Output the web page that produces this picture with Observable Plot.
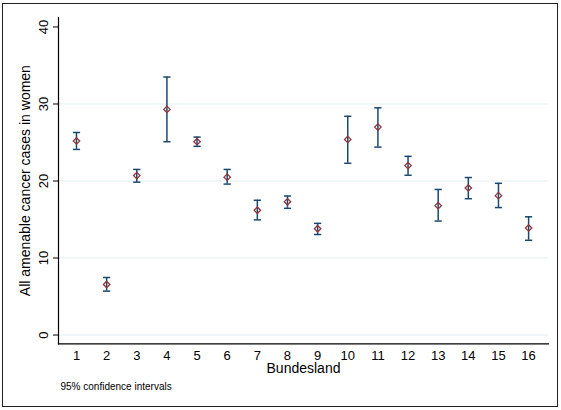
<!DOCTYPE html>
<html>
<head>
<meta charset="utf-8">
<script src="https://cdn.jsdelivr.net/npm/d3@7"></script>
<script src="https://cdn.jsdelivr.net/npm/@observablehq/plot@0.6"></script>
<style>
body { margin: 0; background: #fff; }
#wrap { position: relative; width: 561px; height: 410px; }
#border { position: absolute; left: 2px; top: 3px; width: 554px; height: 402px; border: 1.5px solid #222; pointer-events: none; }
</style>
</head>
<body>
<div id="wrap"><div id="border"></div></div>
<script>
// Data
const bundesland = [1, 2, 3, 4, 5, 6, 7, 8, 9, 10, 11, 12, 13, 14, 15, 16];
const estimate = [25.2, 6.56, 20.7, 29.3, 25.1, 20.5, 16.2, 17.3, 13.8, 25.4, 27.0, 22.0, 16.8, 19.1, 18.1, 13.9];
const lower    = [24.1, 5.7, 19.85, 25.1, 24.5, 19.6, 14.95, 16.45, 13.05, 22.3, 24.4, 20.75, 14.8, 17.7, 16.55, 12.3];
const upper    = [26.3, 7.47, 21.5, 33.5, 25.7, 21.5, 17.5, 18.05, 14.5, 28.4, 29.5, 23.2, 18.9, 20.45, 19.7, 15.35];
const yTicks = [0, 10, 20, 30, 40];
const gridTicks = [0, 10, 20, 30];
const xLabel = "Bundesland";
const yLabel = "All amenable cancer cases in women";
const note = "95% confidence intervals";

const data = bundesland.map((b, i) => ({b, est: estimate[i], lo: lower[i], hi: upper[i]}));

const navy = "#1a476f";
const cranberry = "#90353b";
const capSymbol = {
  draw(context, size) {
    const w = Math.sqrt(size / Math.PI);
    context.moveTo(-w, 0);
    context.lineTo(w, 0);
  }
};

const chart = Plot.plot({
  width: 561,
  height: 410,
  marginLeft: 58,
  marginRight: 13,
  marginTop: 17,
  marginBottom: 66.7,
  style: { fontFamily: "'Liberation Sans', Arial, sans-serif", fontSize: "13px", background: "transparent", color: "#000" },
  x: { type: "linear", domain: [0.403, 16.66] },
  y: { type: "linear", domain: [-1.14, 41.23] },
  marks: [
    Plot.gridY(gridTicks, { stroke: "#e3eef0", strokeOpacity: 1, strokeWidth: 1 }),
    Plot.axisY({ ticks: yTicks, tickSize: 5, tickRotate: -90, tickPadding: 6, fontSize: 13, label: null, stroke: "#000", fill: "#000" }),
    Plot.axisX({ ticks: bundesland, tickSize: 0, tickPadding: 7, fontSize: 13, label: null, tickFormat: d => String(d), fill: "#000" }),
    Plot.frame({ anchor: "left", stroke: "#000", strokeWidth: 1.2 }),
    Plot.frame({ anchor: "bottom", stroke: "#000", strokeWidth: 1.2 }),
    Plot.ruleX(data, { x: "b", y1: "lo", y2: "hi", stroke: navy, strokeWidth: 1.5 }),
    Plot.dot(data, { x: "b", y: "lo", symbol: capSymbol, r: 3.6, stroke: navy, strokeWidth: 1.5, fill: "none" }),
    Plot.dot(data, { x: "b", y: "hi", symbol: capSymbol, r: 3.6, stroke: navy, strokeWidth: 1.5, fill: "none" }),
    Plot.dot(data, { x: "b", y: "est", symbol: "diamond2", r: 2.9, stroke: cranberry, strokeWidth: 1.3, fill: "none" }),
    Plot.text([xLabel], { frameAnchor: "bottom", dy: 24.7, textAnchor: "middle", lineAnchor: "middle", fontSize: 14, fill: "#000" }),
    Plot.text([yLabel], { frameAnchor: "left", rotate: -90, dx: -33, textAnchor: "middle", lineAnchor: "middle", fontSize: 14, fill: "#000" }),
    Plot.text([note], { frameAnchor: "bottom-left", dx: 2, dy: 43, textAnchor: "start", lineAnchor: "middle", fontSize: 10, fill: "#000" })
  ]
});
document.getElementById("wrap").prepend(chart);
</script>
</body>
</html>
